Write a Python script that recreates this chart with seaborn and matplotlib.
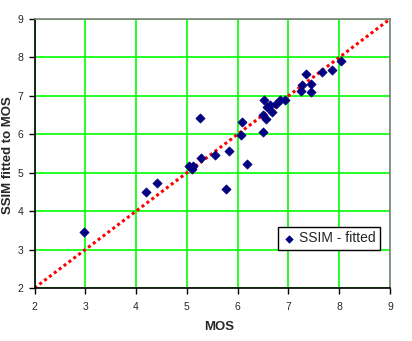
import matplotlib
matplotlib.use("Agg")
import matplotlib.pyplot as plt
import seaborn as sns
import pandas as pd

mos = [2.965, 4.205, 4.42, 5.05, 5.12, 5.10, 5.26, 5.28, 5.56, 5.78, 5.83,
       6.07, 6.09, 6.19, 6.49, 6.51, 6.49, 6.55, 6.58, 6.63, 6.67, 6.76,
       6.84, 6.94, 7.24, 7.27, 7.35, 7.45, 7.45, 7.66, 7.85, 8.04]
ssim_fitted = [3.47, 4.51, 4.74, 5.165, 5.18, 5.10, 6.43, 5.37, 5.47, 4.58, 5.57,
               5.97, 6.33, 5.22, 6.07, 6.88, 6.50, 6.41, 6.72, 6.75, 6.57, 6.79,
               6.90, 6.90, 7.12, 7.27, 7.56, 7.32, 7.09, 7.62, 7.66, 7.92]
diag = [2, 9]
ticks = [2, 3, 4, 5, 6, 7, 8, 9]
series_label = "SSIM - fitted"

df = pd.DataFrame({"MOS": mos, "SSIM": ssim_fitted})

sns.set_style("white")
plt.rcParams["font.family"] = ["Liberation Sans", "DejaVu Sans"]

fig = plt.figure(figsize=(4.12, 3.41), dpi=100)
ax_h = 288 - 19
ax_w = 390 - 34.5
ax = fig.add_axes([34.5 / 412, 1 - 288 / 341, ax_w / 412, ax_h / 341])

ax.plot(diag, diag, color="#FF0000", linestyle=(0, (1, 1)), linewidth=2.2,
        zorder=2, solid_capstyle="butt")
sns.scatterplot(data=df, x="MOS", y="SSIM", ax=ax, marker="D", s=22,
                color="#000080", edgecolor="#000080", linewidth=0.5,
                label=series_label, zorder=3)

ax.set_xlim(2, 9)
ax.set_ylim(2, 9)
ax.set_xticks(ticks)
ax.set_yticks(ticks)
ax.set_xticklabels([str(t) for t in ticks])
ax.set_yticklabels([str(t) for t in ticks])
ax.grid(True, color="#00FF00", linewidth=1.2, zorder=0)
ax.set_axisbelow(True)

for side in ["top", "right"]:
    ax.spines[side].set_color("#808080")
    ax.spines[side].set_linewidth(1.2)
for side in ["left", "bottom"]:
    ax.spines[side].set_color("black")
    ax.spines[side].set_linewidth(1.2)

ax.tick_params(axis="both", direction="out", length=4, width=1, color="black",
               labelsize=7.5, left=True, bottom=True)
ax.tick_params(axis="x", pad=6)
ax.tick_params(axis="y", pad=4)

ax.set_xlabel("MOS", fontsize=9.5, fontweight="bold")
ax.set_ylabel("SSIM fitted to MOS", fontsize=9.5, fontweight="bold")
ax.xaxis.set_label_coords((219 - 34.5) / ax_w, (288 - 326.5) / ax_h)
ax.xaxis.label.set_va("center")
ax.yaxis.set_label_coords((8.5 - 34.5) / ax_w, (288 - 155.5) / ax_h)
ax.yaxis.label.set_va("center")

leg = ax.legend(loc="lower right", bbox_to_anchor=(380 / 412, 1 - 249.5 / 341),
                bbox_transform=fig.transFigure, frameon=True, fancybox=False,
                fontsize=10, handletextpad=0.2, borderpad=0.3,
                handlelength=1.0, borderaxespad=0, markerscale=0.8)
leg.get_frame().set_edgecolor("black")
leg.get_frame().set_linewidth(1.0)
leg.get_frame().set_alpha(1)

fig.savefig("out.png", dpi=100)
